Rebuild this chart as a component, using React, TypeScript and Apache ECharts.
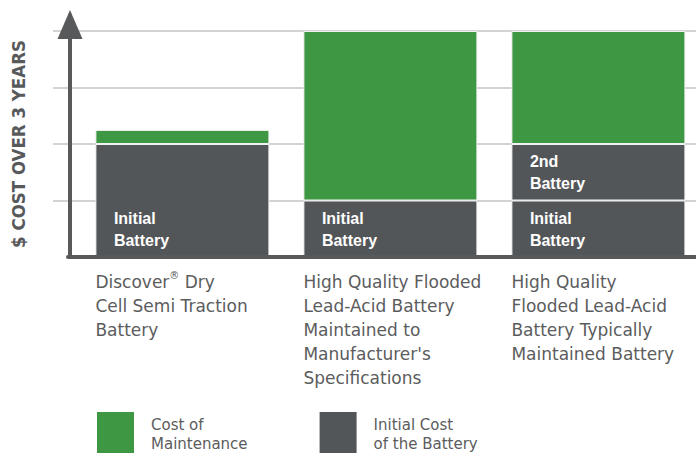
import { useEffect, useRef } from 'react';
import * as echarts from 'echarts';

const categories = [
  'Discover® Dry\nCell Semi Traction\nBattery',
  "High Quality Flooded\nLead-Acid Battery\nMaintained to\nManufacturer's\nSpecifications",
  'High Quality\nFlooded Lead-Acid\nBattery Typically\nMaintained Battery',
];
const initialCost = [2, 1, 1];
const secondBattery: (number | null)[] = [null, null, 1];
const maintenanceCost = [0.25, 3, 2];
const initialLabels = ['Initial\nBattery', 'Initial\nBattery', 'Initial\nBattery'];
const secondLabels = ['', '', '2nd\nBattery'];
const legendNames = ['Cost of Maintenance', 'Initial Cost of the Battery'];
const legendLabels: Record<string, string> = {
  'Cost of Maintenance': 'Cost of\nMaintenance',
  'Initial Cost of the Battery': 'Initial Cost\nof the Battery',
};
const yMin = 0;
const yMax = 4;
const yInterval = 1;
const yTitle = '$ COST OVER 3 YEARS';

const GREEN = '#3e9743';
const DARK = '#535659';
const AXIS = '#58595b';
const TEXT = '#5b5c5d';

export default function App() {
  const ref = useRef<HTMLDivElement>(null);
  useEffect(() => {
    if (!ref.current) return;
    const chart = echarts.init(ref.current, undefined, { renderer: 'svg' });
    const barLabel = {
      show: true,
      position: 'insideBottomLeft',
      distance: 6,
      offset: [12.5, 0],
      color: '#ffffff',
      fontFamily: 'Liberation Sans, Arial, sans-serif',
      fontWeight: 'bold',
      fontSize: 16,
      lineHeight: 22,
    };
    chart.setOption({
      animation: false,
      grid: [
        { left: 53, right: 0, top: 31, bottom: 196, outerBoundsMode: 'none', containLabel: false },
        { left: 78.4, width: 624, top: 31, bottom: 196, outerBoundsMode: 'none', containLabel: false },
        { left: 68, right: 0, top: 31, bottom: 196, outerBoundsMode: 'none', containLabel: false },
      ],
      legend: {
        data: legendNames,
        left: 97,
        top: 412,
        padding: 0,
        itemWidth: 37,
        itemHeight: 44,
        itemGap: 72,
        icon: 'rect',
        selectedMode: false,
        itemStyle: { borderWidth: 0 },
        formatter: (n: string) => legendLabels[n] || n,
        textStyle: {
          fontFamily: 'DejaVu Sans, sans-serif',
          fontSize: 15,
          lineHeight: 19,
          color: TEXT,
          padding: [0, 0, 0, 12],
        },
      },
      xAxis: [
        { gridIndex: 0, type: 'value', show: false },
        {
          gridIndex: 1,
          type: 'category',
          data: categories,
          axisLine: { show: false },
          axisTick: { show: false },
          splitLine: { show: false },
          axisLabel: {
            interval: 0,
            margin: 13,
            align: 'center',
            verticalAlign: 'top',
            width: 174,
            overflow: 'none',
            hideOverlap: false,
            formatter: (v: string) =>
              v
                .split('\n')
                .map((l) => '{a|' + l.replace('®', '}{r|®}{a|') + '}')
                .join('\n'),
            rich: {
              a: {
                align: 'left',
                fontFamily: 'DejaVu Sans, sans-serif',
                fontSize: 17,
                lineHeight: 24,
                color: TEXT,
              },
              r: {
                align: 'left',
                verticalAlign: 'top',
                fontFamily: 'DejaVu Sans, sans-serif',
                fontSize: 10,
                lineHeight: 14,
                color: TEXT,
              },
            },
          },
        },
        {
          gridIndex: 2,
          type: 'value',
          min: 0,
          max: 1,
          z: 5,
          axisLine: { show: true, onZero: false, lineStyle: { color: AXIS, width: 4 } },
          axisTick: { show: false },
          axisLabel: { show: false },
          splitLine: { show: false },
        },
      ],
      yAxis: [
        {
          gridIndex: 0,
          type: 'value',
          min: yMin,
          max: yMax,
          interval: yInterval,
          axisLine: { show: false },
          axisTick: { show: false },
          axisLabel: { show: false },
          splitLine: { show: true, showMinLine: false, lineStyle: { color: '#c4c4c4', width: 1.5 } },
        },
        {
          gridIndex: 1,
          type: 'value',
          min: yMin,
          max: yMax,
          interval: yInterval,
          position: 'left',
          offset: 8.4,
          axisLine: {
            show: true,
            symbol: ['none', 'triangle'],
            symbolSize: [25, 29],
            symbolOffset: [0, 6.5],
            lineStyle: { color: AXIS, width: 4 },
          },
          axisTick: { show: false },
          axisLabel: { show: false },
          splitLine: { show: false },
          name: yTitle,
          nameLocation: 'middle',
          nameRotate: 90,
          nameGap: 42,
          nameTextStyle: {
            fontFamily: "'DejaVu Sans Condensed', 'Liberation Sans Narrow', 'Roboto', sans-serif",
            fontWeight: 'bold',
            fontSize: 18.5,
            color: AXIS,
          },
        },
        { gridIndex: 2, type: 'value', min: 0, max: 1, show: false },
      ],
      series: [
        {
          name: 'Initial Cost of the Battery',
          type: 'bar',
          xAxisIndex: 1,
          yAxisIndex: 1,
          stack: 'total',
          barWidth: 174,
          data: initialCost,
          itemStyle: { color: DARK, borderColor: '#f2f2f2', borderWidth: 1 },
          label: { ...barLabel, formatter: (p: any) => initialLabels[p.dataIndex] },
        },
        {
          name: 'Initial Cost of the Battery',
          type: 'bar',
          xAxisIndex: 1,
          yAxisIndex: 1,
          stack: 'total',
          barWidth: 174,
          data: secondBattery,
          itemStyle: { color: DARK, borderColor: '#f2f2f2', borderWidth: 1 },
          label: { ...barLabel, formatter: (p: any) => secondLabels[p.dataIndex] },
        },
        {
          name: 'Cost of Maintenance',
          type: 'bar',
          xAxisIndex: 1,
          yAxisIndex: 1,
          stack: 'total',
          barWidth: 174,
          data: maintenanceCost,
          itemStyle: { color: GREEN, borderColor: '#f2f2f2', borderWidth: 1 },
          label: { show: false },
        },
      ],
    });
    return () => chart.dispose();
  }, []);
  return (
    <div
      ref={ref}
      style={{ position: 'fixed', left: 0, top: 0, width: 696, height: 453, background: '#fff' }}
    />
  );
}
